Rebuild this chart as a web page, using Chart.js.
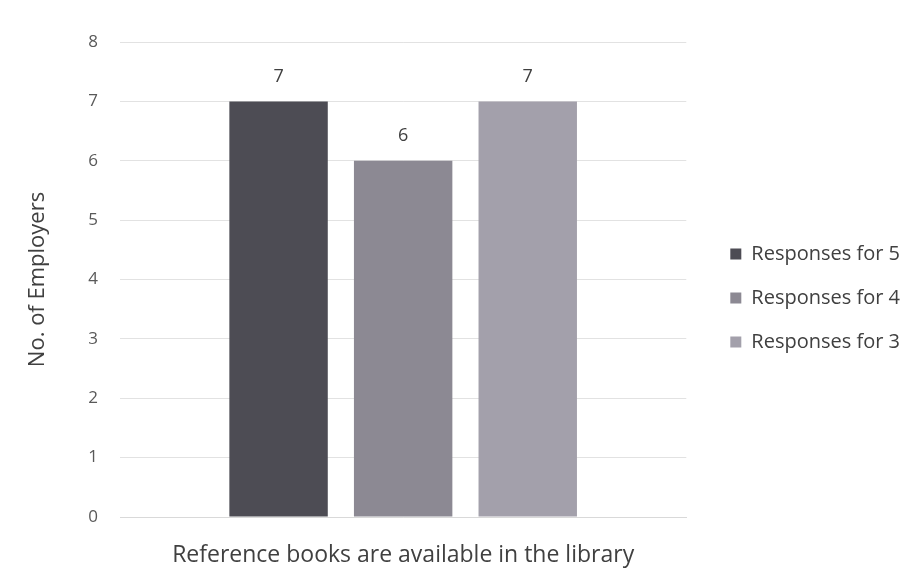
<!DOCTYPE html>
<html>
<head>
<meta charset="utf-8">
<script src="https://cdn.jsdelivr.net/npm/chart.js@4.4.0/dist/chart.umd.min.js"></script>
<style>
  html, body { margin: 0; padding: 0; background: #fff; }
  #wrap { width: 916px; height: 580px; position: relative; }
</style>
</head>
<body>
<div id="wrap"><canvas id="myChart" width="916" height="580"></canvas></div>
<script>
// data
var categories = ['Reference books are available in the library'];
var seriesNames = ['Responses for 5', 'Responses for 4', 'Responses for 3'];
var responses5 = [7];
var responses4 = [6];
var responses3 = [7];
var yTicks = [0, 1, 2, 3, 4, 5, 6, 7, 8];

var barColors = ['#4d4c54', '#8c8993', '#a3a0ab'];
var fontFamily = '"Open Sans", Lato, sans-serif';

// numbers over the bars
var valueLabels = {
    id: 'valueLabels',
    afterDatasetsDraw: function (chart) {
        var ctx = chart.ctx;
        ctx.save();
        ctx.font = '18px ' + fontFamily;
        ctx.fillStyle = '#404040';
        ctx.textAlign = 'center';
        ctx.textBaseline = 'middle';
        chart.data.datasets.forEach(function (ds, i) {
            chart.getDatasetMeta(i).data.forEach(function (bar, j) {
                ctx.fillText(ds.data[j], bar.x, bar.y - 25);
            });
        });
        ctx.restore();
    }
};

// legend sits a bit higher and further right in the original
var legendNudge = {
    id: 'legendNudge',
    afterLayout: function (chart) {
        chart.legend.top -= 13;
        chart.legend.bottom -= 13;
        chart.legend.left += 20;
        chart.legend.right += 20;
    }
};

var config = {
    type: 'bar',
    data: {
        labels: categories,
        datasets: [
            { label: seriesNames[0], data: responses5, backgroundColor: barColors[0] },
            { label: seriesNames[1], data: responses4, backgroundColor: barColors[1] },
            { label: seriesNames[2], data: responses3, backgroundColor: barColors[2] }
        ]
    },
    options: {
        responsive: false,
        animation: false,
        categoryPercentage: 0.66,
        barPercentage: 0.79,
        layout: { padding: { top: 42, right: 26, left: 0, bottom: 0 } },
        plugins: {
            legend: {
                position: 'right',
                labels: {
                    font: { family: fontFamily, size: 20 },
                    color: '#404040',
                    boxWidth: 11,
                    boxHeight: 11,
                    padding: 24
                }
            },
            tooltip: { enabled: false }
        },
        scales: {
            x: {
                grid: { display: false },
                border: { color: '#d9d9d9' },
                ticks: { display: false },
                title: {
                    display: true,
                    text: categories[0],
                    font: { family: fontFamily, size: 23 },
                    color: '#404040',
                    padding: { top: 4, bottom: 11 }
                },
                afterFit: function (scale) { scale.height = 63; }
            },
            y: {
                min: 0,
                max: 8,
                afterBuildTicks: function (scale) {
                    scale.ticks = yTicks.map(function (v) { return { value: v }; });
                },
                grid: { color: '#e2e2e2', drawTicks: false },
                border: { display: false },
                ticks: {
                    font: { family: fontFamily, size: 17 },
                    color: '#595959',
                    padding: 22
                },
                title: {
                    display: true,
                    text: 'No. of Employers',
                    font: { family: fontFamily, size: 22 },
                    color: '#404040',
                    padding: { top: 25, bottom: 4 }
                },
                afterFit: function (scale) { scale.width = 120; }
            }
        }
    },
    plugins: [valueLabels, legendNudge]
};

var lineGraph = new Chart(document.getElementById('myChart'), config);
</script>
</body>
</html>
